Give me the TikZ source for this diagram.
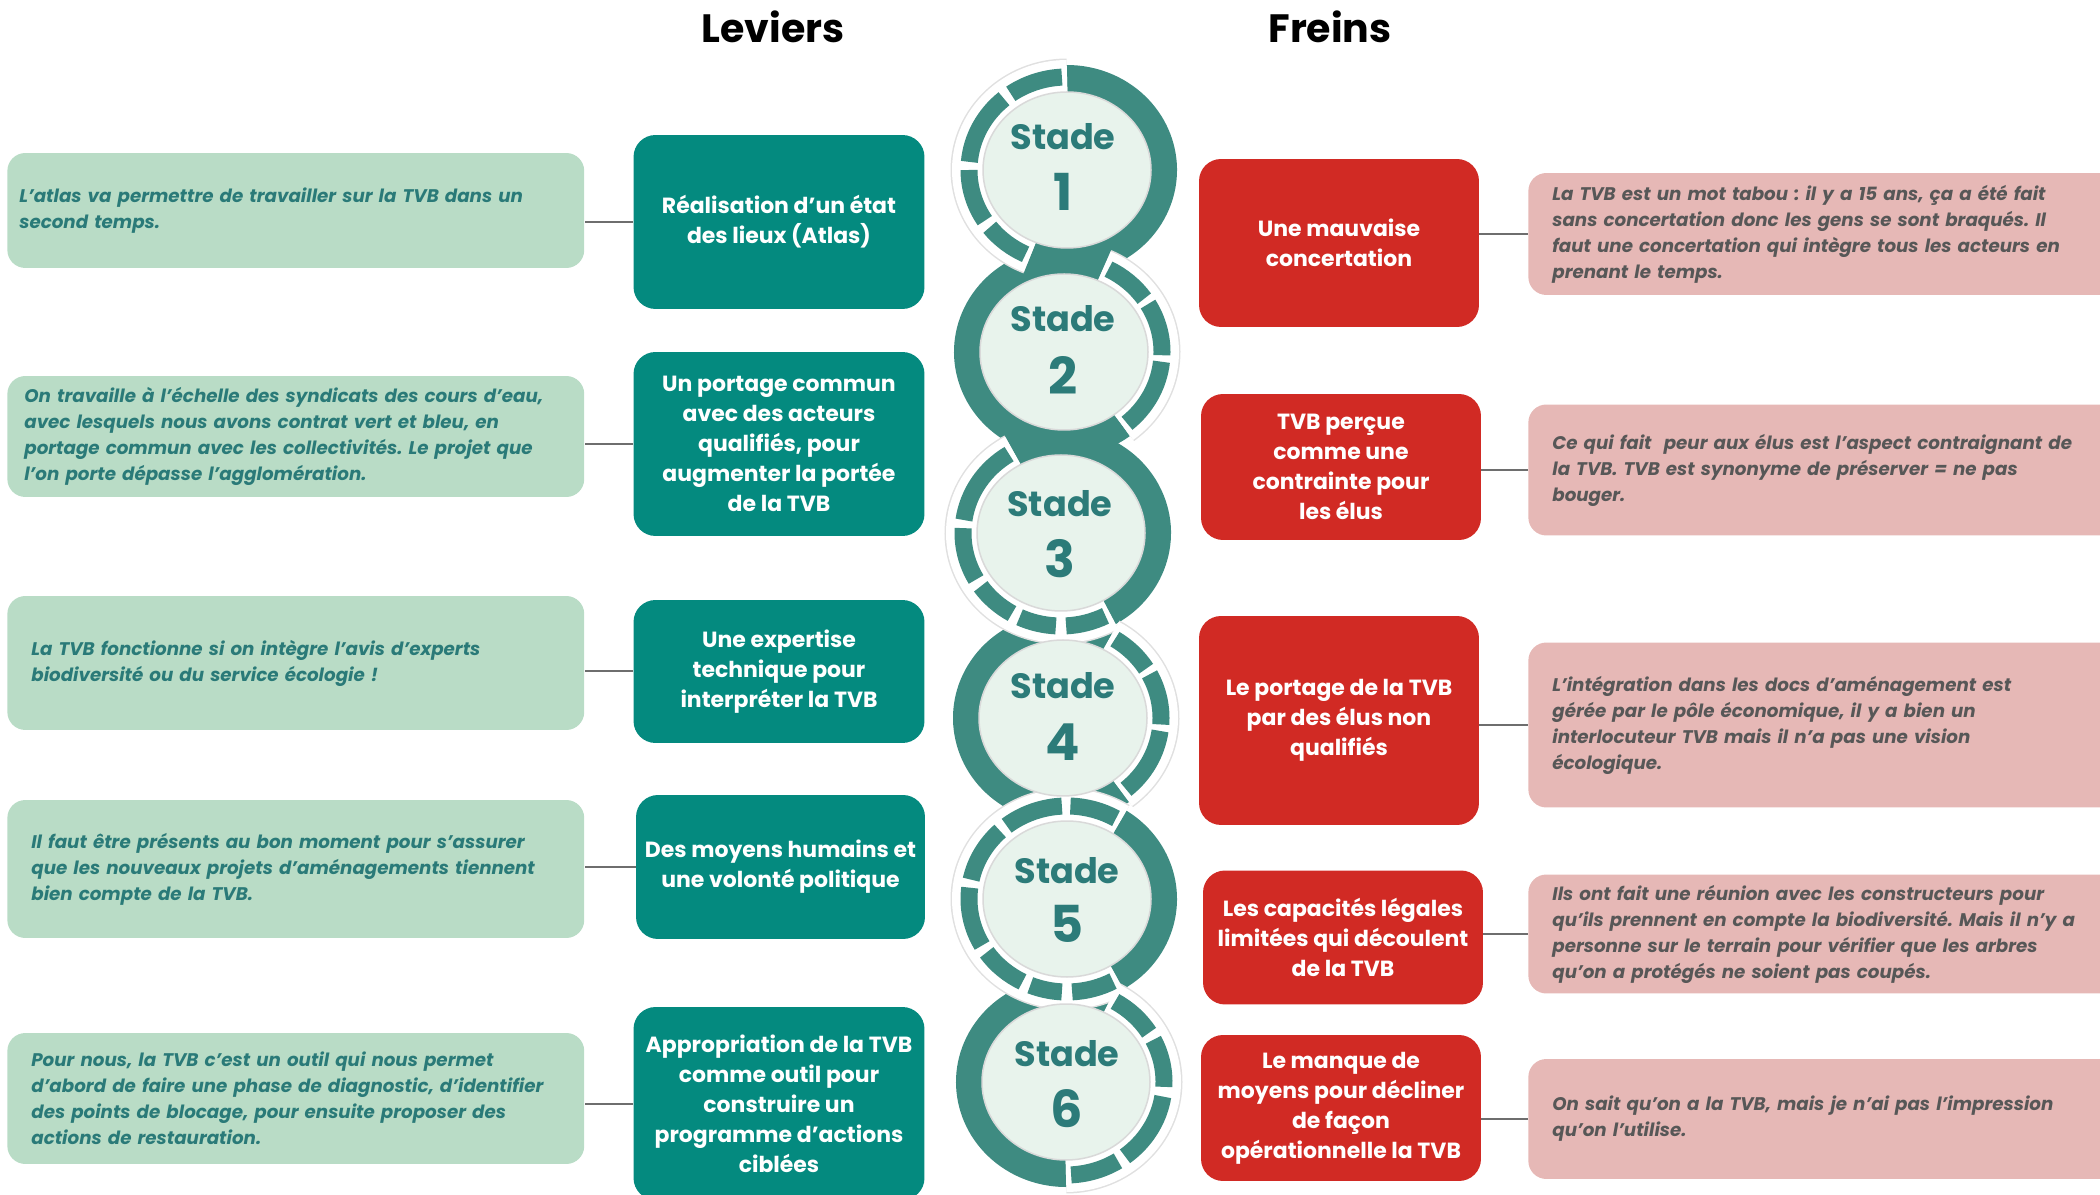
\documentclass[tikz,border=0pt]{standalone}
\usepackage{fontspec}
\setmainfont{Poppins}
\frenchspacing
\definecolor{levfill}{HTML}{048A7F}
\definecolor{levbg}{HTML}{B9DCC6}
\definecolor{levtxt}{HTML}{2A7A78}
\definecolor{frefill}{HTML}{D12A24}
\definecolor{frebg}{HTML}{E6B8B6}
\definecolor{fretxt}{HTML}{575757}
\definecolor{ringteal}{HTML}{3E8B81}
\definecolor{discfill}{HTML}{E8F3EC}
\definecolor{stadecol}{HTML}{2C7B79}
\definecolor{linkgray}{HTML}{6E6E6E}
\newcommand{\quotefont}{\fontsize{10.4}{14.8}\selectfont\bfseries\itshape\hyphenpenalty=10000\exhyphenpenalty=10000}
\newcommand{\boxfont}{\fontsize{12.5}{17.1}\selectfont\bfseries}
\newcommand{\solidarc}[3]{\draw[solidring] ([shift={(#2:96 and 91)}]#1) arc[start angle=#2, end angle=#3, x radius=96, y radius=91];}
\newcommand{\segarc}[4][segring]{\draw[#1] ([shift={(#3:98 and 93)}]#2) arc[start angle=#3, end angle=#4, x radius=98, y radius=93];}
\tikzset{
  heading/.style={font=\fontsize{22.5}{26}\selectfont\bfseries, text=black},
  quote/.style={anchor=west, rounded corners=0.36cm, inner ysep=0pt, align=left, font=\quotefont},
  levquote/.style={quote, fill=levbg, text=levtxt},
  frequote/.style={quote, fill=frebg, text=fretxt, inner xsep=0.48cm, text width=10.9cm},
  lever/.style={rounded corners=0.44cm, fill=levfill, text=white, align=center, font=\boxfont, minimum width=5.82cm, inner sep=2pt},
  brake/.style={rounded corners=0.44cm, fill=frefill, text=white, align=center, font=\boxfont, minimum width=5.6cm, inner sep=2pt},
  link/.style={draw=linkgray, line width=0.04cm},
  solidring/.style={draw=ringteal, line width=0.56cm},
  bandedge/.style={draw=black!12, line width=0.74cm},
  band/.style={draw=white, line width=0.68cm},
  segring/.style={draw=ringteal, line width=0.34cm},
  disc/.style={fill=discfill, draw=black!15, line width=0.03cm},
  stadelbl/.style={text=stadecol, font=\fontsize{20}{22}\selectfont\bfseries},
  stadenum/.style={text=stadecol, font=\fontsize{29}{30}\selectfont\bfseries}
}
\begin{document}
\begin{tikzpicture}[x=0.02cm, y=0.02cm]
    \useasboundingbox (0,0) rectangle (2100,-1195);
    \node[heading] (lev) at (773,-27) {Leviers};
    \node[heading] (fre) at (1330,-27) {Freins};
    % the stages
    \coordinate (c1) at (1067,-170);
    \coordinate (c2) at (1064,-352);
    \coordinate (c3) at (1061,-533);
    \coordinate (c4) at (1063,-718);
    \coordinate (c5) at (1067,-899);
    \coordinate (c6) at (1066,-1082);
    \solidarc{c1}{-115}{92}
    \solidarc{c2}{62}{307}
    \solidarc{c3}{-63}{122}
    \solidarc{c4}{57}{310}
    \solidarc{c5}{-62}{60}
    \solidarc{c6}{59}{272}
    \segarc[bandedge]{c1}{90}{248}
    \segarc[bandedge]{c2}{-53}{66}
    \segarc[bandedge]{c3}{119}{300}
    \segarc[bandedge]{c4}{-53}{61}
    \segarc[bandedge]{c5}{57}{301}
    \segarc[bandedge]{c6}{-90}{63}
    \segarc[band]{c1}{90}{248}
    \segarc[band]{c2}{-53}{66}
    \segarc[band]{c3}{119}{300}
    \segarc[band]{c4}{-53}{61}
    \segarc[band]{c5}{57}{301}
    \segarc[band]{c6}{-90}{63}
    \foreach \a/\b in {93/125,130/175,180/213,218/245} {\segarc{c1}{\a}{\b}}
    \foreach \a/\b in {35/63,-2/31,-50/-6} {\segarc{c2}{\a}{\b}}
    \foreach \a/\b in {122/172,177/210,215/240,245/267,273/297} {\segarc{c3}{\a}{\b}}
    \foreach \a/\b in {32/58,-4/28,-50/-8} {\segarc{c4}{\a}{\b}}
    \foreach \a/\b in {60/88,93/128,133/168,173/210,215/243,248/267,273/298} {\segarc{c5}{\a}{\b}}
    \foreach \a/\b in {32/60,-3/27,-53/-9,-87/-58} {\segarc{c6}{\a}{\b}}
    \foreach \i in {1,...,6} \filldraw[disc] (c\i) ellipse [x radius=84, y radius=78];
    \foreach \i/\x/\ys/\yn in {1/1063/137/192,2/1063/319/375,3/1060/504/559,4/1063/686/742,5/1067/871/924,6/1067/1054/1109} {
        \node[stadelbl] (st\i) at (\x,-\ys) {Stade};
        \node[stadenum] (num\i) at (\x,-\yn) {\i};
    }
    % leviers
    \node[lever, minimum height=3.48cm] (t1) at (779,-222) {Réalisation d’un état\\des lieux (Atlas)};
    \node[lever, minimum height=3.68cm] (t2) at (779,-444) {Un portage commun\\avec des acteurs\\qualifiés, pour\\augmenter la portée\\de la TVB};
    \node[lever, minimum height=2.86cm] (t3) at (779,-671.5) {Une expertise\\technique pour\\interpréter la TVB};
    \node[lever, minimum height=2.88cm, minimum width=5.78cm] (t4) at (780.5,-867) {Des moyens humains et\\une volonté politique};
    \node[lever, minimum height=3.86cm] (t5) at (779,-1103.5) {Appropriation de la TVB\\comme outil pour\\construire un\\programme d’actions\\ciblées};
    \node[levquote, inner xsep=0.24cm, text width=11.06cm, minimum height=2.30cm] (g1) at (7,-210.5) {L’atlas va permettre de travailler sur la TVB dans un\\second temps.};
    \node[levquote, inner xsep=0.34cm, text width=10.86cm, minimum height=2.42cm] (g2) at (7,-436.5) {On travaille à l’échelle des syndicats des cours d’eau,\\avec lesquels nous avons contrat vert et bleu, en\\portage commun avec les collectivités. Le projet que\\l’on porte dépasse l’agglomération.};
    \node[levquote, inner xsep=0.48cm, text width=10.58cm, minimum height=2.68cm] (g3) at (7,-663) {La TVB fonctionne si on intègre l'avis d'experts\\biodiversité ou du service écologie !};
    \node[levquote, inner xsep=0.48cm, text width=10.58cm, minimum height=2.76cm] (g4) at (7,-869) {Il faut être présents au bon moment pour s’assurer\\que les nouveaux projets d’aménagements tiennent\\bien compte de la TVB.};
    \node[levquote, inner xsep=0.48cm, text width=10.58cm, minimum height=2.62cm] (g5) at (7,-1098.5) {Pour nous, la TVB c’est un outil qui nous permet\\d’abord de faire une phase de diagnostic, d’identifier\\des points de blocage, pour ensuite proposer des\\actions de restauration.};
    \foreach \i in {1,...,5} \draw[link] (t\i.west) -- (t\i.west -| g\i.east);
    % freins
    \node[brake, minimum height=3.36cm] (r1) at (1339,-243) {Une mauvaise\\concertation};
    \node[brake, minimum height=2.92cm] (r2) at (1341,-467) {TVB perçue\\comme une\\contrainte pour\\les élus};
    \node[brake, minimum height=4.18cm] (r3) at (1339,-720.5) {Le portage de la TVB\\par des élus non\\qualifiés};
    \node[brake, minimum height=2.68cm] (r4) at (1343,-937.5) {Les capacités légales\\limitées qui découlent\\de la TVB};
    \node[brake, minimum height=2.92cm] (r5) at (1341,-1108) {Le manque de\\moyens pour décliner\\de façon\\opérationnelle la TVB};
    \node[frequote, minimum height=2.44cm] (p1) at (1528,-234) {La TVB est un mot tabou : il y a 15 ans, ça a été fait\\sans concertation donc les gens se sont braqués. Il\\faut une concertation qui intègre tous les acteurs en\\prenant le temps.};
    \node[frequote, minimum height=2.62cm] (p2) at (1528,-470) {Ce qui fait \ peur aux élus est l’aspect contraignant de\\la TVB. TVB est synonyme de préserver = ne pas\\bouger.};
    \node[frequote, minimum height=3.30cm] (p3) at (1528,-725) {L’intégration dans les docs d'aménagement est\\gérée par le pôle économique, il y a bien un\\interlocuteur TVB mais il n’a pas une vision\\écologique.};
    \node[frequote, minimum height=2.38cm] (p4) at (1528,-934) {Ils ont fait une réunion avec les constructeurs pour\\qu’ils prennent en compte la biodiversité. Mais il n’y a\\personne sur le terrain pour vérifier que les arbres\\qu’on a protégés ne soient pas coupés.};
    \node[frequote, minimum height=2.40cm] (p5) at (1528,-1119) {On sait qu’on a la TVB, mais je n’ai pas l’impression\\qu’on l’utilise.};
    \foreach \i in {1,...,5} \draw[link] (r\i.east |- p\i.west) -- (p\i.west);
\end{tikzpicture}
\end{document}
